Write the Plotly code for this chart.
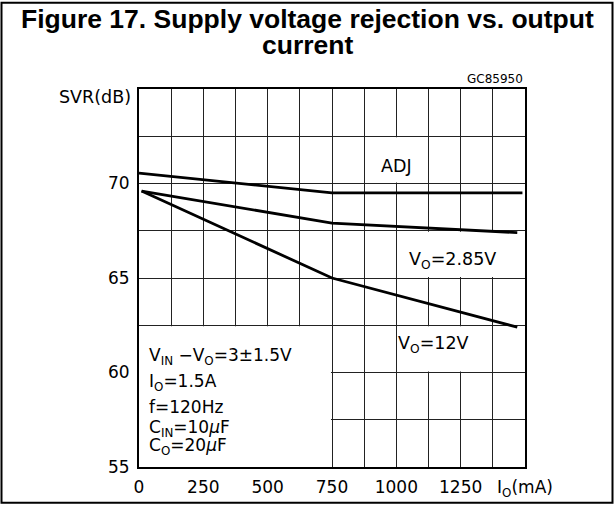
import plotly.graph_objects as go

# ---- data ----
adj_x = [0, 750, 1490]
adj_y = [70.55, 69.5, 69.5]
v285_x = [10, 750, 1470]
v285_y = [69.6, 67.9, 67.4]
v12_x = [10, 750, 1470]
v12_y = [69.6, 65.0, 62.4]

x_tickvals = [0, 250, 500, 750, 1000, 1250, 1500]
x_ticktext = ["0", "250", "500", "750", "1000", "1250", "I<sub>O</sub>(mA)"]
y_tickvals = [55, 60, 65, 70]
y_ticktext = ["55", "60", "65", "70"]

conditions = ["V<sub>IN</sub> \u2212V<sub>O</sub>=3\u00b11.5V", "I<sub>O</sub>=1.5A", "f=120Hz",
              "C<sub>IN</sub>=10<i>\u03bc</i>F", "C<sub>O</sub>=20<i>\u03bc</i>F"]
cond_y = [60.94, 59.58, 58.28, 57.14, 56.2]

W, H = 615, 512
L, R, T, B = 139, 90, 89, 38
PW, PH = W - L - R, H - T - B


def py(p):
    return (H - B - p) / PH


def px(p):
    return (p - L) / PW


FONT = "DejaVu Sans"
fig = go.Figure()
for xs, ys in [(adj_x, adj_y), (v285_x, v285_y), (v12_x, v12_y)]:
    fig.add_trace(go.Scatter(x=xs, y=ys, mode="lines",
                             line=dict(color="black", width=2.8),
                             showlegend=False, hoverinfo="skip"))

# white boxes hiding gridlines behind labels
ex, ey = 4, 0.055
boxes = [(0, 750 - ex, 55, 62.5 - ey),
         (875 + ex, 1125 - ex, 70 + ey, 72.5 - ey),
         (1000 + ex, 1500, 65 + ey, 67.5 - ey),
         (1000 + ex, 1375 - ex, 60 + ey, 62.5 - ey)]
for x0, x1, y0, y1 in boxes:
    fig.add_shape(type="rect", xref="x", yref="y", x0=x0, x1=x1, y0=y0, y1=y1,
                  fillcolor="white", line=dict(width=0), layer="between")

# outer frame
fig.add_shape(type="rect", xref="paper", yref="paper",
              x0=px(1.5), x1=px(612.5), y0=py(510.5), y1=py(1.2),
              line=dict(color="black", width=2), fillcolor="rgba(0,0,0,0)", layer="above")

TFONT = dict(family="Liberation Sans, Arial", size=26.5, color="black")
ann = []
ann.append(dict(text="<b>Figure 17. Supply voltage rejection vs. output</b>", xref="paper", yref="paper",
                x=px(307), y=py(18), xanchor="center", yanchor="middle", showarrow=False,
                font=TFONT))
ann.append(dict(text="<b>current</b>", xref="paper", yref="paper",
                x=px(307), y=py(44), xanchor="center", yanchor="middle", showarrow=False,
                font=TFONT))
ann.append(dict(text="GC85950", xref="paper", yref="paper", x=1, y=py(79),
                xanchor="right", yanchor="middle", showarrow=False,
                font=dict(family=FONT, size=12, color="black")))
ann.append(dict(text="SVR(dB)", xref="paper", yref="paper", x=px(133), y=py(97),
                xanchor="right", yanchor="middle", showarrow=False,
                font=dict(family=FONT, size=17.5, color="black")))
ann.append(dict(text="ADJ", x=1000, y=70.94, xanchor="center", yanchor="middle", showarrow=False,
                font=dict(family=FONT, size=17.5, color="black")))
ann.append(dict(text="V<sub>O</sub>=2.85V", x=1218, y=65.95, xanchor="center", yanchor="middle",
                showarrow=False, font=dict(family=FONT, size=17.5, color="black")))
ann.append(dict(text="V<sub>O</sub>=12V", x=1143, y=61.47, xanchor="center", yanchor="middle",
                showarrow=False, font=dict(family=FONT, size=17.5, color="black")))
for t, yv in zip(conditions, cond_y):
    ann.append(dict(text=t, x=33, y=yv - 0.1, xanchor="left", yanchor="middle", showarrow=False,
                    font=dict(family=FONT, size=17, color="black")))

fig.update_layout(
    width=W, height=H,
    margin=dict(l=L, r=R, t=T, b=B, pad=0),
    paper_bgcolor="white", plot_bgcolor="white",
    annotations=ann,
    font=dict(family=FONT, size=17, color="black"),
)
fig.update_xaxes(range=[0, 1500], tickvals=x_tickvals, ticktext=x_ticktext,
                 showgrid=True, gridcolor="#222", gridwidth=1,
                 minor=dict(dtick=125, tick0=0, showgrid=True, gridcolor="#222", gridwidth=1),
                 showline=True, mirror=True, linecolor="black", linewidth=2,
                 ticks="", ticklabelstandoff=4, zeroline=False,
                 tickfont=dict(family=FONT, size=17, color="black"))
fig.update_yaxes(range=[55, 75], tickvals=y_tickvals, ticktext=y_ticktext,
                 showgrid=True, gridcolor="#222", gridwidth=1,
                 minor=dict(dtick=2.5, tick0=55, showgrid=True, gridcolor="#222", gridwidth=1),
                 showline=True, mirror=True, linecolor="black", linewidth=2,
                 ticks="", ticklabelstandoff=4, zeroline=False,
                 tickfont=dict(family=FONT, size=17, color="black"))

# fit the figure to the real viewport height (paper coordinates stay valid when
# height and vertical margins scale together)
js = (
    "document.body.style.margin='0';"
    "var gd=document.getElementById('{plot_id}');"
    "gd.style.position='fixed';gd.style.left='0px';gd.style.top='0px';"
    "var h=window.innerHeight;"
    "if(h>400&&h<700&&Math.abs(h-%d)>1){var k=h/%d;gd.style.height=h+'px';"
    "Plotly.relayout(gd,{height:h,'margin.t':%d*k,'margin.b':%d*k});}"
) % (H, H, T, B)

fig.write_html("out.html", config={"displayModeBar": False, "responsive": False},
               post_script=js)
